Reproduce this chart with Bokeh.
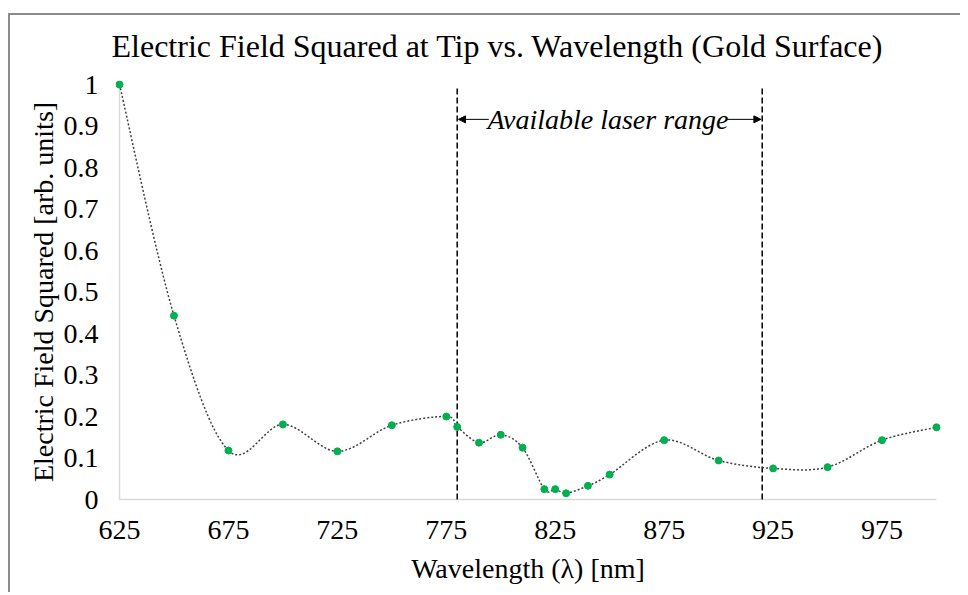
from bokeh.plotting import figure
from bokeh.models import (FixedTicker, NumeralTickFormatter, Label, Arrow,
                          NormalHead, Range1d, ColumnDataSource)
from bokeh.embed import file_html
from bokeh.resources import INLINE

# ---- data ----
wavelength = [625, 650, 675, 700, 725, 750, 775, 780, 790, 800, 810, 820, 825,
              830, 840, 850, 875, 900, 925, 950, 975, 1000]
field_sq = [1.0, 0.443, 0.118, 0.181, 0.116, 0.179, 0.200, 0.175, 0.137, 0.156,
            0.125, 0.025, 0.025, 0.015, 0.033, 0.060, 0.143, 0.094, 0.075, 0.078,
            0.143, 0.174]
x_ticks = [625, 675, 725, 775, 825, 875, 925, 975]
y_ticks = [0, 0.1, 0.2, 0.3, 0.4, 0.5, 0.6, 0.7, 0.8, 0.9, 1.0]
x_min, x_max = 625, 1000
y_min, y_max = 0, 1
laser_min, laser_max = 780, 920
title_text = "Electric Field Squared at Tip vs. Wavelength (Gold Surface)"

FONT = "Liberation Serif"
EDGE = "#8c8c8c"
AXIS = "#d9d9d9"

# small padding so the end markers are not clipped (about 4px each side)
xpad = (x_max - x_min) * 4 / 817
ypad = (y_max - y_min) * 4 / 415

p = figure(width=952, height=584, output_backend="svg", toolbar_location=None,
           x_range=Range1d(x_min - xpad, x_max + xpad),
           y_range=Range1d(y_min - ypad, y_max + ypad),
           min_border_left=107, min_border_top=60, min_border_right=20,
           min_border_bottom=89)
p.border_fill_color = None
p.styles = {"margin-top": "8px", "margin-left": "8px",
            "background-image": f"linear-gradient({EDGE},{EDGE}), linear-gradient({EDGE},{EDGE})",
            "background-size": "100% 2px, 2px 100%",
            "background-position": "0px 5px, 0px 5px",
            "background-repeat": "no-repeat"}
p.outline_line_color = None
p.xgrid.visible = False
p.ygrid.visible = False

p.title.text = title_text
p.title.text_font = FONT
p.title.text_font_size = "32px"
p.title.text_font_style = "normal"
p.title.text_color = "black"
p.title.align = "left"
p.title.offset = -4
p.title.standoff = 34

for ax in (p.xaxis[0], p.yaxis[0]):
    ax.major_tick_line_color = None
    ax.minor_tick_line_color = None
    ax.axis_line_color = None
    ax.major_label_text_font = FONT
    ax.major_label_text_font_size = "28px"
    ax.major_label_text_color = "black"
    ax.axis_label_text_font = FONT
    ax.axis_label_text_font_size = "28px"
    ax.axis_label_text_font_style = "normal"
    ax.axis_label_text_color = "black"

p.xaxis.ticker = FixedTicker(ticks=x_ticks)
p.yaxis.ticker = FixedTicker(ticks=y_ticks)
p.yaxis.formatter = NumeralTickFormatter(format="0.[0]")
p.xaxis.axis_label = "Wavelength (λ) [nm]"
p.yaxis.axis_label = "Electric Field Squared [arb. units]"
p.xaxis.major_label_standoff = 11
p.yaxis.major_label_standoff = 11
p.xaxis.axis_label_standoff = 11
p.yaxis.axis_label_standoff = 2

# axis lines along the data limits
p.segment(x0=[x_min, x_min], y0=[y_min, y_min], x1=[x_max, x_min], y1=[y_min, y_max],
          line_color=AXIS, line_width=1.5)

# laser range markers
p.segment(x0=[laser_min, laser_max], y0=[y_min, y_min], x1=[laser_min, laser_max],
          y1=[0.993, 0.993], line_color="black", line_width=1.5, line_dash="6 3")

# smoothed line (Catmull-Rom style bezier through the data points)
n = len(wavelength)
x0, y0, x1, y1, cx0, cy0, cx1, cy1 = [], [], [], [], [], [], [], []
for i in range(n - 1):
    pm = (wavelength[max(i - 1, 0)], field_sq[max(i - 1, 0)])
    pa = (wavelength[i], field_sq[i])
    pb = (wavelength[i + 1], field_sq[i + 1])
    pn = (wavelength[min(i + 2, n - 1)], field_sq[min(i + 2, n - 1)])
    x0.append(pa[0]); y0.append(pa[1]); x1.append(pb[0]); y1.append(pb[1])
    cx0.append(pa[0] + (pb[0] - pm[0]) / 6); cy0.append(pa[1] + (pb[1] - pm[1]) / 6)
    cx1.append(pb[0] - (pn[0] - pa[0]) / 6); cy1.append(pb[1] - (pn[1] - pa[1]) / 6)
bez = ColumnDataSource(dict(x0=x0, y0=y0, x1=x1, y1=y1, cx0=cx0, cy0=cy0, cx1=cx1, cy1=cy1))
p.bezier(x0="x0", y0="y0", x1="x1", y1="y1", cx0="cx0", cy0="cy0", cx1="cx1", cy1="cy1",
         source=bez, line_color="#404040", line_width=1.5, line_dash="2 2")

p.scatter(wavelength, field_sq, size=7, color="#00B050")

label_y = 0.916
p.add_layout(Label(x=(laser_min + laser_max) / 2 - 0.8, y=label_y, text="Available laser range",
                   text_align="center", text_baseline="middle", text_font=FONT,
                   text_font_size="28px", text_font_style="italic", text_color="black"))
p.add_layout(Arrow(end=NormalHead(size=7, fill_color="black", line_color="black"),
                   x_start=794.5, y_start=label_y, x_end=laser_min + 0.6, y_end=label_y,
                   line_color="black", line_width=1))
p.add_layout(Arrow(end=NormalHead(size=7, fill_color="black", line_color="black"),
                   x_start=904, y_start=label_y, x_end=laser_max - 0.6, y_end=label_y,
                   line_color="black", line_width=1))

open("out.html", "w").write(file_html(p, INLINE))
